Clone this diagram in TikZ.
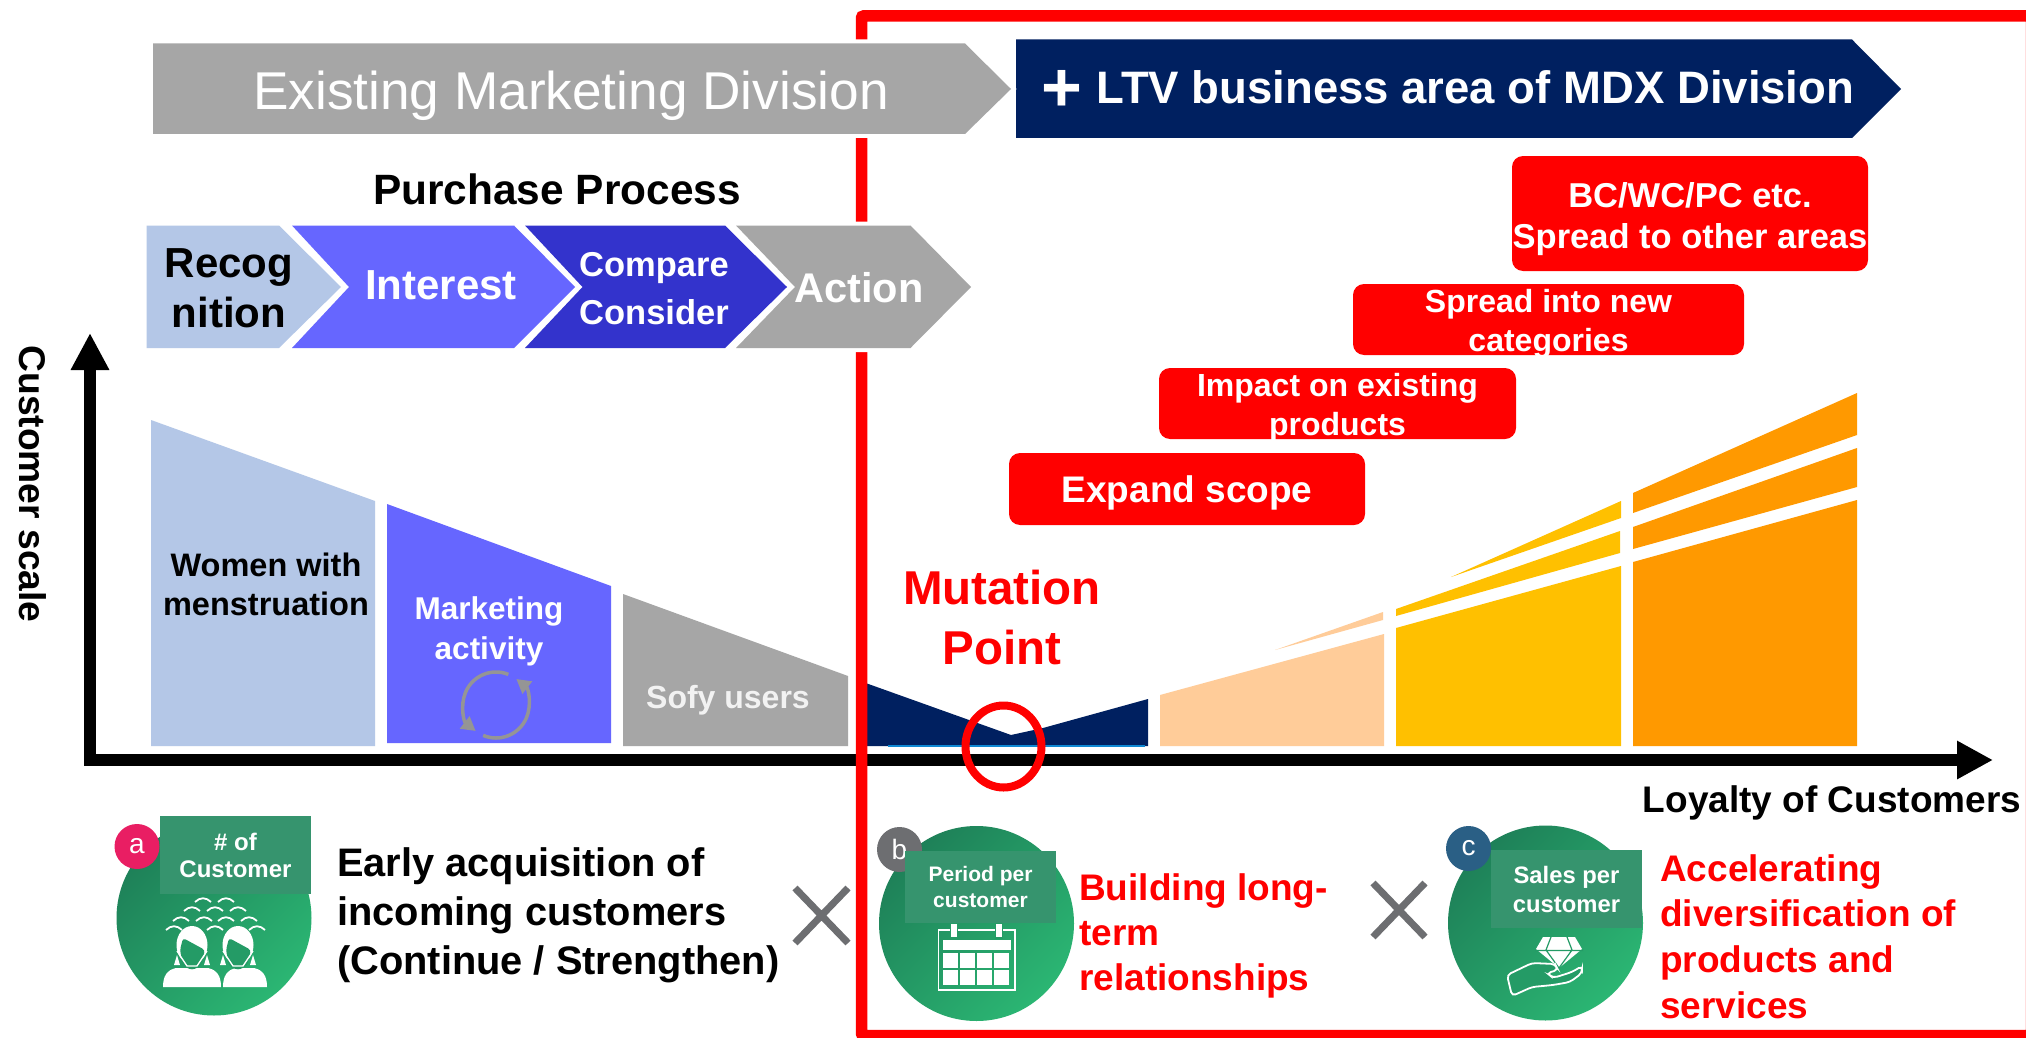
\documentclass[tikz,border=0pt]{standalone}
\usepackage{fontspec}
\setmainfont{Liberation Sans}
\usetikzlibrary{arrows.meta}
\newcommand{\fz}[2]{\fontsize{#1}{#2}\selectfont}
\definecolor{lightblue}{HTML}{B4C7E7}
\definecolor{midpurple}{HTML}{6666FF}
\definecolor{deeppurple}{HTML}{3333CC}
\definecolor{midgray}{HTML}{A6A6A6}
\definecolor{cyclegray}{HTML}{959595}
\definecolor{navy}{HTML}{002060}
\definecolor{peach}{HTML}{FFCC99}
\definecolor{gold}{HTML}{FFC000}
\definecolor{amber}{HTML}{FF9900}
\definecolor{greendark}{HTML}{1E8058}
\definecolor{greenlight}{HTML}{2BB673}
\definecolor{greenmid}{HTML}{249B66}
\definecolor{greenbox}{HTML}{36946E}
\definecolor{crossgray}{HTML}{6D6E71}
\definecolor{badgepink}{HTML}{E91E63}
\definecolor{badgeblue}{HTML}{2A5F85}
\tikzset{
  chev/.style={preaction={draw=white,line width=8pt},line join=miter},
  redbox/.style={fill=red,rounded corners=11pt},
  redtext/.style={text=white,align=center,font=\bfseries\fz{32}{39},inner sep=0pt},
  circ/.style={circle,minimum size=195pt,inner sep=0pt,
    left color=greendark,right color=greenlight,shading angle=45},
  badge/.style={circle,minimum size=45pt,inner sep=0pt,text=white,font=\fz{28}{30}},
  tagbox/.style={fill=greenbox,text=white,align=center,inner sep=0pt,font=\bfseries},
  lefttext/.style={anchor=west,align=left,inner sep=0pt,font=\bfseries},
  iconline/.style={draw=white,line width=1.8pt},
  xmark/.style={draw=crossgray,line width=7pt},
  cycle arc/.style={cyclegray,line width=3.5pt,-{Triangle[length=14pt,width=15pt]}}
}
\begin{document}
\begin{tikzpicture}[yscale=-1,x=1pt,y=1pt]
  \useasboundingbox (0,0) rectangle (2026,1038);
  \fill[white] (0,0) rectangle (2026,1038);

  % axes
  \coordinate (ytop) at (90,333);
  \coordinate (origin) at (90,760);
  \coordinate (xend) at (1993,760);
  \draw[line width=12pt,{Triangle[length=37pt,width=36pt]}-{Triangle[length=36pt,width=36pt]}]
  (ytop) -- (origin) -- (xend);

  % dark part behind the frame
  \fill[navy] (860,681) -- (1011,735) -- (1043,728) -- (1148,699) -- (1148,746) -- (860,746) -- cycle;
  \fill[cyan!70!blue] (888,744.5) rectangle (1145,746.5);

  % frame
  \draw[red,line width=11.5pt,rounded corners=2pt] (861.5,16) rectangle (2031.5,1035.5);

  % top banners
  \fill[navy] (1016,39.5) -- (1852,39.5) -- (1901,89) -- (1852,138) -- (1016,138) -- cycle;
  \fill[midgray,chev] (153,43.5) -- (965,43.5) -- (1011,89) -- (965,134) -- (153,134) -- cycle;
  \node[text=white,font=\fz{53.2}{60}] (existing) at (571,96) {Existing Marketing Division};
  \node[text=white,font=\bfseries\fz{45.5}{54}] (ltv) at (1448,87)
  {\smash{\raisebox{-8pt}{\fz{70}{54}+}}\hspace{14pt}LTV business area of MDX Division};

  % purchase process
  \node[font=\bfseries\fz{42.4}{50}] (purchase) at (557,189) {Purchase Process};
  \fill[lightblue,chev] (146.5,225.5) -- (279,225.5) -- (341,287) -- (279,348) -- (146.5,348) -- cycle;
  \fill[midpurple,chev] (292,225.5) -- (514,225.5) -- (575,287) -- (514,348) -- (292,348) -- (349,287) -- cycle;
  \fill[deeppurple,chev] (525,225.5) -- (725,225.5) -- (787,287) -- (725,348) -- (525,348) -- (582.5,287) -- cycle;
  \fill[midgray,chev] (736,225.5) -- (910.5,225.5) -- (971,287) -- (910.5,348) -- (736,348) -- (795,287) -- cycle;
  \node[align=center,font=\bfseries\fz{42}{50}] (recog) at (229,288) {Recog\\nition};
  \node[text=white,font=\bfseries\fz{42}{50}] (interest) at (441,285) {Interest};
  \node[text=white,align=center,font=\bfseries\fz{34.5}{48}] (compare) at (654,289) {Compare\\Consider};
  \node[text=white,font=\bfseries\fz{41.5}{50}] (action) at (859,288) {Action};

  % left blocks
  \fill[lightblue] (151,420) -- (375,501) -- (375,746) -- (151,746) -- cycle;
  \fill[midpurple] (387,504) -- (611,586) -- (611,743) -- (387,743) -- cycle;
  \fill[midgray] (623,594) -- (848,676) -- (848,746) -- (623,746) -- cycle;
  \node[align=center,font=\bfseries\fz{32.5}{39}] (women) at (266,584.5) {Women with\\menstruation};
  \node[text=white,align=center,font=\bfseries\fz{31.5}{40}] (marketing) at (489,631) {Marketing\\activity};
  \node[text=white!95!black,font=\bfseries\fz{32}{39}] (sofy) at (728,700) {Sofy users};
  \draw[cycle arc] (496,705) ++(-68:33) arc[start angle=-68,end angle=-232,radius=33];
  \draw[cycle arc] (496,705) ++(113:33) arc[start angle=113,end angle=-52,radius=33];

  % right blocks
  \fill[peach] (1160,695) -- (1384,634) -- (1384,746) -- (1160,746) -- cycle;
  \fill[peach] (1275,650) -- (1383,612) -- (1383,620) -- cycle;
  \fill[gold] (1396,628) -- (1621,566) -- (1621,746) -- (1396,746) -- cycle;
  \fill[gold] (1396,609) -- (1620,531) -- (1620,553) -- (1396,616) -- cycle;
  \fill[gold] (1451,577) -- (1621,501) -- (1621,518) -- cycle;
  \fill[amber] (1633,562) -- (1857,500) -- (1857,746) -- (1633,746) -- cycle;
  \fill[amber] (1633,527) -- (1857,448) -- (1857,487) -- (1633,549) -- cycle;
  \fill[amber] (1633,493) -- (1857,393) -- (1857,435) -- (1633,513) -- cycle;

  % red steps
  \fill[redbox] (1009,453) rectangle (1365,525);
  \fill[redbox] (1159,368) rectangle (1516,439);
  \fill[redbox] (1353,284) rectangle (1744,355);
  \fill[redbox] (1512,156) rectangle (1868,271);
  \node[redtext,font=\bfseries\fz{37}{44}] (scope) at (1187,492.5) {Expand scope};
  \node[redtext] (impact) at (1337.5,408) {Impact on existing\\products};
  \node[redtext] (spread) at (1548.5,323.5) {Spread into new\\categories};
  \node[redtext,font=\bfseries\fz{34.5}{41.5}] (areas) at (1690,219) {BC/WC/PC etc.\\Spread to other areas};

  % mutation point
  \node[text=red,align=center,font=\bfseries\fz{47.5}{60}] (mutation) at (1002,618) {Mutation\\Point};
  \draw[red,line width=8pt] (1003.5,746.5) ellipse [x radius=38,y radius=41];

  % axis titles
  \node[rotate=-90,font=\bfseries\fz{37.2}{40}] (scale) at (33,484) {Customer scale};
  \node[font=\bfseries\fz{37}{44}] (loyalty) at (1832,803) {Loyalty of Customers};

  % factor a
  \node[circ] (circa) at (214,918) {};
  \foreach \ax/\ay in {203/900,226/900,192/909,215/909,238/909,181/919,204/919,226/919,249/919,174/928,215/928,257/928}
    \draw[iconline] ({\ax-8},{\ay+2}) .. controls ({\ax-3},{\ay-3}) and ({\ax+3},{\ay-3}) .. ({\ax+8},{\ay+2});
  \foreach \hx/\bl in {192/-29,238/-15}{
    \fill[white] ({\hx+\bl},987) .. controls ({\hx+\bl},976) and ({\hx+\bl+4},970) .. ({\hx+\bl+13},968) -- ({\hx+16},968) .. controls ({\hx+25},970) and ({\hx+29},976) .. ({\hx+29},987) -- cycle;
    \fill[white] (\hx,945) ellipse [x radius=15.5,y radius=19];
    \fill[greenmid,rounded corners=3pt] ({\hx-9},938) -- ({\hx+13},950) -- ({\hx+9},966) -- (\hx,970) -- ({\hx-9},966) -- ({\hx-12},950) -- cycle;
    \draw[white,line width=1.3pt] ({\hx-15},951) -- ({\hx-5},966) -- ({\hx+5},966) -- ({\hx+15},951);
    \fill[white] ({\hx-15},955) -- ({\hx-12},965) -- ({\hx-18},965) -- cycle;
    \fill[white] ({\hx+15},955) -- ({\hx+18},965) -- ({\hx+12},965) -- cycle;
  }
  \node[badge,fill=badgepink] (bada) at (137,846.5) {a};
  \node[tagbox,minimum width=151pt,minimum height=78pt,font=\bfseries\fz{24}{27}] (taga) at (235.5,855) {\# of\\Customer};
  \node[lefttext,font=\bfseries\fz{39.8}{49}] (early) at (337,915.5) {Early acquisition of\\incoming customers\\(Continue / Strengthen)};
  \draw[xmark] (795,888) -- (848,943) (848,888) -- (795,943);

  % factor b
  \node[circ] (circb) at (976.5,923.5) {};
  \draw[iconline] (938.5,930) rectangle (1015,990);
  \fill[white] (943,940) rectangle (1010.5,950);
  \foreach \cx in {943,960,977,994}
    \foreach \cy in {953,970}
      \fill[white] (\cx,\cy) rectangle ++(15,14.5);
  \foreach \cx in {954,999}
    \draw[greenmid,line width=1.5pt,fill=white] (\cx-3.5,923) rectangle (\cx+3.5,938);
  \node[badge,fill=crossgray] (badb) at (899.5,849.5) {b};
  \node[tagbox,minimum width=151pt,minimum height=72pt,font=\bfseries\fz{21}{26}] (tagb) at (980.5,887) {Period per\\customer};
  \node[lefttext,text=red,font=\bfseries\fz{37}{45}] (building) at (1079,936) {Building long-\\term\\relationships};
  \draw[xmark] (1373,883) -- (1425,937) (1425,883) -- (1373,937);

  % factor c
  \node[circ] (circc) at (1545.5,923) {};
  \fill[white] (1543,937) -- (1575,937) -- (1582,949) -- (1559,968) -- (1536,949) -- cycle;
  \draw[greenmid,line width=1.2pt] (1535,950.5) -- (1583,950.5) (1551,937) -- (1546,950) -- (1559,968) -- (1572,950) -- (1567,937);
  \draw[iconline,rounded corners=4pt,fill=greenmid] (1507,975) -- (1532,963) -- (1555,964) -- (1558,970) -- (1547,973) -- (1553,978) -- (1572,972) -- (1582,966) -- (1582,973) -- (1570,982) -- (1553,985) -- (1532,987) -- (1512,996) -- cycle;
  \node[badge,fill=badgeblue] (badc) at (1468.5,848.5) {c};
  \node[tagbox,minimum width=151pt,minimum height=78pt,font=\bfseries\fz{23.8}{29}] (tagc) at (1566.5,889) {Sales per\\customer};
  \node[lefttext,text=red,font=\bfseries\fz{37}{45.6}] (accel) at (1660,936.5) {Accelerating\\diversification of\\products and\\services};
\end{tikzpicture}
\end{document}
